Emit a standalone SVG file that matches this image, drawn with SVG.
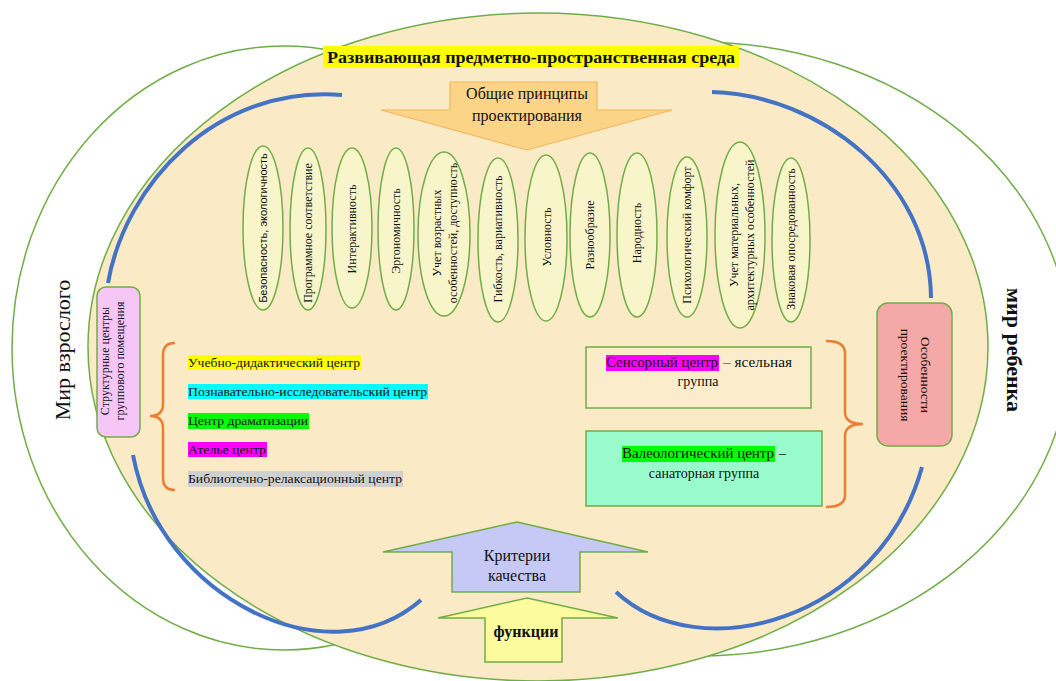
<svg xmlns="http://www.w3.org/2000/svg" width="1056" height="681" viewBox="0 0 1056 681">
<defs>
<style>
.outer{fill:#ffffff;stroke:#70AD47;stroke-width:1.5}
.main{fill:#FAEAC6;stroke:#70AD47;stroke-width:1.5}
.arc{fill:none;stroke:#4472C4;stroke-width:4;stroke-linecap:butt}
.brace{fill:none;stroke:#ED7D31;stroke-width:2.5}
.pr{fill:#F9F5CB;stroke:#70AD47;stroke-width:1.5}
.s{font-family:"Liberation Serif","Times New Roman","DejaVu Serif",serif;fill:#111}
.a{font-family:"Liberation Sans",Arial,"DejaVu Sans",sans-serif;fill:#111}
.t12{font-size:12px}
.t13{font-size:13.5px}
.t14{font-size:14px}
.t16{font-size:16px}
.mid{text-anchor:middle}
</style>
</defs>
<rect width="1056" height="681" fill="#ffffff"/>
<g id="background">
<ellipse class="outer" cx="284" cy="348" rx="272" ry="302"/>
<ellipse class="outer" cx="698" cy="349" rx="372" ry="307"/>
<ellipse class="main" cx="538" cy="347" rx="450" ry="334"/>
</g>
<g id="connectors">
<path class="arc" d="M108,283 C125,185 215,85 342,95"/>
<path class="arc" d="M712,92 C820,95 930,180 931,298"/>
<path class="arc" d="M133,455 C160,600 330,680 421,600"/>
<path class="arc" d="M616,592 C700,670 880,620 922,467"/>
<path class="brace" d="M175,343 Q163,343 163,355 L163,404 Q163,416 150,416 Q163,416 163,428 L163,478 Q163,490 175,490"/>
<path class="brace" d="M826,341 Q845,341 845,353 L845,412 Q845,424 863,424 Q845,424 845,436 L845,495 Q845,507 826,507"/>
</g>
<g id="title">
<rect x="323" y="46" width="416" height="22" fill="#FFFF00"/>
<text class="s" x="531" y="63" text-anchor="middle" font-size="17" font-weight="bold" textLength="408" lengthAdjust="spacingAndGlyphs">Развивающая предметно-пространственная среда</text>
</g>
<g id="world-adult">
<text class="s mid" transform="translate(70,350) rotate(-90)" font-size="22">Мир взрослого</text>
</g>
<g id="world-child">
<text class="s mid" transform="translate(1007,350) rotate(90)" font-size="22" font-weight="bold">мир ребенка</text>
</g>
<g id="principles-arrow">
<polygon points="450,82 597,82 597,110 672,110 527,150 381,110 450,110" fill="#FBD488" stroke="#F4B55C" stroke-width="1.2"/>
<text class="s t16 mid" x="527" y="99">Общие принципы</text>
<text class="s t16 mid" x="527" y="121">проектирования</text>
</g>
<g id="principles">
<g id="p1"><ellipse class="pr" cx="263" cy="228" rx="20" ry="82"/><text class="a mid" font-size="11" transform="translate(263,228) rotate(-90)" y="4">Безопасность, экологичность</text></g>
<g id="p2"><ellipse class="pr" cx="308" cy="229" rx="18" ry="81"/><text class="s t12 mid" transform="translate(308,233) rotate(-90)" y="4">Программное соответствие</text></g>
<g id="p3"><ellipse class="pr" cx="352" cy="228" rx="20" ry="80"/><text class="s t12 mid" transform="translate(352,229) rotate(-90)" y="4">Интерактивность</text></g>
<g id="p4"><ellipse class="pr" cx="396" cy="229" rx="18" ry="81"/><text class="s t12 mid" transform="translate(396,231) rotate(-90)" y="4">Эргономичность</text></g>
<g id="p5"><ellipse class="pr" cx="444" cy="234" rx="26" ry="82"/><text class="s t12 mid" transform="translate(444,233) rotate(-90)"><tspan x="0" y="-3">Учет возрастных</tspan><tspan x="0" y="13">особенностей, доступность</tspan></text></g>
<g id="p6"><ellipse class="pr" cx="498" cy="240" rx="20" ry="82"/><text class="s t12 mid" transform="translate(498,239) rotate(-90)" y="4">Гибкость, вариативность</text></g>
<g id="p7"><ellipse class="pr" cx="546" cy="238" rx="21" ry="83"/><text class="s t12 mid" transform="translate(547,237) rotate(-90)" y="4">Условность</text></g>
<g id="p8"><ellipse class="pr" cx="590" cy="235" rx="20" ry="82"/><text class="s t12 mid" transform="translate(590,235) rotate(-90)" y="4">Разнообразие</text></g>
<g id="p9"><ellipse class="pr" cx="637" cy="235" rx="20" ry="82"/><text class="s t12 mid" transform="translate(637,233) rotate(-90)" y="4">Народность</text></g>
<g id="p10"><ellipse class="pr" cx="687" cy="237" rx="20" ry="80"/><text class="s t12 mid" transform="translate(687,235) rotate(-90)" y="4">Психологический комфорт</text></g>
<g id="p11"><ellipse class="pr" cx="740" cy="235" rx="25" ry="93"/><text class="s t12 mid" transform="translate(742,235) rotate(-90)"><tspan x="0" y="-4">Учет материальных,</tspan><tspan x="0" y="12">архитектурных особенностей</tspan></text></g>
<g id="p12"><ellipse class="pr" cx="791" cy="240" rx="19" ry="82"/><text class="s t12 mid" transform="translate(791,239) rotate(-90)" y="4">Знаковая опосредованность</text></g>
</g>
<g id="structural-centers">
<rect x="97" y="287" width="43" height="150" rx="9" fill="#F6C6F6" stroke="#70AD47" stroke-width="1.5"/>
<text class="s t12 mid" transform="translate(109,361) rotate(-90)"><tspan x="0" y="0">Структурные центры</tspan><tspan x="0" y="15">группового помещения</tspan></text>
</g>
<g id="centers-list">
<rect x="188" y="355" width="173" height="15" fill="#FFFF00"/>
<text class="s t13" x="188" y="367" textLength="172" lengthAdjust="spacingAndGlyphs">Учебно-дидактический центр</text>
<rect x="188" y="384" width="240" height="15" fill="#00FFFF"/>
<text class="s t13" x="188" y="396" textLength="239" lengthAdjust="spacingAndGlyphs">Познавательно-исследовательский центр</text>
<rect x="188" y="413" width="121" height="16" fill="#00FF00"/>
<text class="s t13" x="188" y="425" textLength="120" lengthAdjust="spacingAndGlyphs">Центр драматизации</text>
<rect x="188" y="442" width="79" height="15" fill="#FF00FF"/>
<text class="s t13" x="188" y="454" textLength="78" lengthAdjust="spacingAndGlyphs">Ателье центр</text>
<rect x="188" y="471" width="215" height="16" fill="#D0D0D0"/>
<text class="s t13" x="188" y="483" textLength="214" lengthAdjust="spacingAndGlyphs">Библиотечно-релаксационный центр</text>
</g>
<g id="sensory-center">
<rect x="586" y="347" width="225" height="61" fill="#FBEDCC" stroke="#70AD47" stroke-width="1.5"/>
<rect x="606" y="355" width="113" height="16" fill="#FF00FF"/>
<text class="s t14" x="606" y="367" textLength="112" lengthAdjust="spacingAndGlyphs">Сенсорный центр</text>
<text class="s t14" x="723" y="367" textLength="69" lengthAdjust="spacingAndGlyphs">– ясельная</text>
<text class="s t14 mid" x="698" y="386">группа</text>
</g>
<g id="valeological-center">
<rect x="586" y="431" width="236" height="75" fill="#99FBCB" stroke="#70AD47" stroke-width="1.5"/>
<rect x="622" y="446" width="153" height="16" fill="#00FF00"/>
<text class="s t14" x="622" y="458" textLength="152" lengthAdjust="spacingAndGlyphs">Валеологический центр</text>
<text class="s t14" x="779" y="458">–</text>
<text class="s t14 mid" x="704" y="478">санаторная группа</text>
</g>
<g id="design-features">
<rect x="877" y="303" width="75" height="143" rx="11" fill="#F5A8A8" stroke="#70AD47" stroke-width="1.5"/>
<text class="s t13 mid" transform="translate(921,375) rotate(90)"><tspan x="0" y="0">Особенности</tspan><tspan x="0" y="20">проектирования</tspan></text>
</g>
<g id="quality-criteria">
<polygon points="517,522 648,552 580,552 580,592 452,592 452,552 383,552" fill="#C6C9F6" stroke="#70AD47" stroke-width="1.5"/>
<text class="s t16 mid" x="517" y="561">Критерии</text>
<text class="s t16 mid" x="517" y="581">качества</text>
</g>
<g id="functions">
<polygon points="527,598 618,618 562,618 562,662 485,662 485,618 438,618" fill="#FCFC9E" stroke="#70AD47" stroke-width="1.5"/>
<text class="s t16 mid" x="526" y="637" font-weight="bold">функции</text>
</g>
</svg>
